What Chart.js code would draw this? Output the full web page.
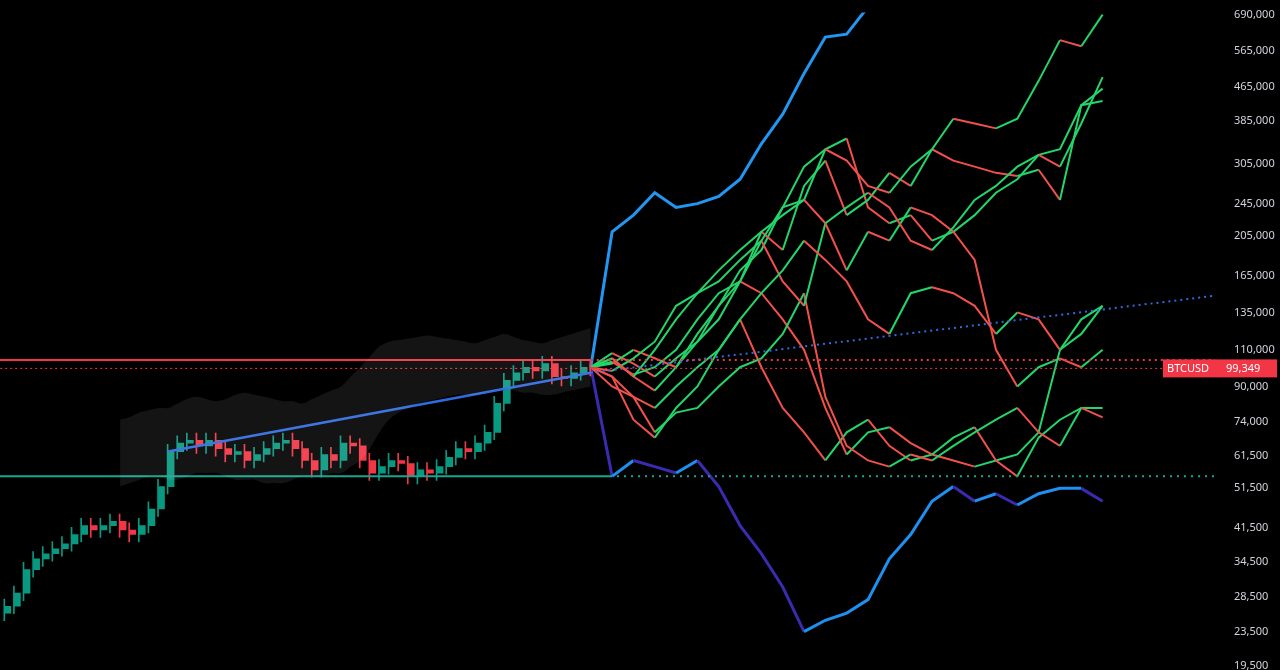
<!DOCTYPE html>
<html>
<head>
<meta charset="utf-8">
<script src="https://cdn.jsdelivr.net/npm/chart.js@4.4.1/dist/chart.umd.min.js"></script>
<style>
  html, body { margin: 0; background: #000; }
  #wrap { width: 1280px; height: 670px; }
</style>
</head>
<body>
<div id="wrap"><canvas id="c"></canvas></div>
<script>
// weekly candles, values in USD thousands
const closes = [27,29,33,35,36,37,38,40,42,41,42,43,41,40,42,46,52,63,66,67,65,67,64,62,63,60,62,64,66,67,64,60,57,62,60,66,65,60,56,58,60,59,55,57,56,58,61,64,63,66,70,82,93,97,100,98,102,95,94,97,100,99.3];
const opens = [26,27,29,33,35,36,37,38,40,42,41,42,43,41,40,42,46,52,63,66,67,65,67,64,62,63,60,62,64,66,67,64,60,57,62,60,66,65,60,56,58,60,59,55,57,56,58,61,64,63,66,70,82,93,97,100,98,102,95,94,97,100];
const bandUpper = [75,76,78,79,80,80,82,84,85,84,83,84,86,87,86,85,84,83,83,82,84,86,88,90,95,100,106,112,115,116,117,118,119,118,117,116,115,114,116,118,120,118,116,115,114,116,118,120,122,124];
const bandLower = [52,53,54,55,55,54,54,55,56,56,56,55,54,54,54,53,53,53,54,55,55,55,56,56,58,60,64,70,75,78,80,82,83,84,85,86,86,86,87,88,89,88,87,87,86,86,87,88,89,90];
const tickValues = [19500,23500,28500,34500,41500,51500,61500,74000,90000,110000,135000,165000,205000,245000,305000,385000,465000,565000,690000];

const blueUp = [100,210,230,260,240,245,255,280,340,400,500,610,620,720,850,1000];
const blueDown = [100,55,60,58,56,60,52,42,36,30,23.5,25,26,28,35,40,48,52,48,50,47,50,51.5,51.5,48];
const paths = [
  [100,105,95,110,130,150,160,180,200,240,300,330,310,270,260,300,330,390,380,370,390,480,600,580,690],
  [100,98,105,115,140,150,170,190,210,230,250,220,240,260,240,200,190,215,250,270,300,320,300,380,490],
  [100,103,96,100,110,130,150,160,210,190,270,310,230,250,290,270,330,310,300,290,285,295,250,420,430],
  [100,95,85,80,90,100,110,130,150,170,200,180,160,130,120,150,155,150,140,120,135,130,110,120,140],
  [100,102,110,105,100,115,130,160,200,160,140,220,170,210,200,240,230,210,180,110,90,100,105,100,110],
  [100,90,85,70,78,80,90,100,105,120,150,85,65,60,58,62,60,65,70,75,80,70,65,80,76],
  [100,105,95,88,100,120,140,160,150,130,110,80,62,70,72,66,62,68,72,60,55,68,75,80,80],
  [100,95,75,68,80,90,110,130,100,80,70,60,70,75,65,60,62,60,58,60,62,70,110,130,140],
  [100,108,102,95,105,115,140,170,190,240,250,330,350,240,220,230,200,210,230,260,280,320,330,420,460]
];
const pathStart = 61, pathStep = 2.22;

const GREEN = '#089981', RED = '#f23645';
const K = 1000;
const pathPts = arr => arr.map((v, k) => ({x: pathStart + k * pathStep, y: v * K}));

const datasets = [];
// shaded band
datasets.push({type:'line', data: bandUpper.map((v,i)=>({x:12+i,y:v*K})), borderWidth:0, pointRadius:0, fill:false, tension:0.4});
datasets.push({type:'line', data: bandLower.map((v,i)=>({x:12+i,y:v*K})), borderWidth:0, pointRadius:0, fill:'-1', backgroundColor:'rgba(255,255,255,0.08)', tension:0.4});
// horizontal levels
datasets.push({type:'line', data:[{x:-1,y:104*K},{x:61,y:104*K}], borderColor:RED, borderWidth:2, pointRadius:0});
datasets.push({type:'line', data:[{x:61,y:104*K},{x:126,y:104*K}], borderColor:RED, borderWidth:2, borderDash:[2,4], pointRadius:0});
datasets.push({type:'line', data:[{x:-1,y:99.349*K},{x:126,y:99.349*K}], borderColor:RED, borderWidth:1, borderDash:[2,3], pointRadius:0});
datasets.push({type:'line', data:[{x:-1,y:55*K},{x:63,y:55*K}], borderColor:'#17a68f', borderWidth:2, pointRadius:0});
datasets.push({type:'line', data:[{x:63,y:55*K},{x:126,y:55*K}], borderColor:'#17a68f', borderWidth:2, borderDash:[2,5], pointRadius:0});
// trend lines
datasets.push({type:'line', data:[{x:17,y:63*K},{x:61,y:97*K}], borderColor:'#2f6be0', borderWidth:2.5, pointRadius:0});
datasets.push({type:'line', data:[{x:61,y:97*K},{x:126,y:148*K}], borderColor:'#2f6be0', borderWidth:2, borderDash:[2,4], pointRadius:0});
// candles
const candleColor = closes.map((c,i)=> c >= opens[i] ? GREEN : RED);
datasets.push({type:'bar', data: closes.map((c,i)=>({x:i, y:[Math.min(c,opens[i])*0.96*K, Math.max(c,opens[i])*1.04*K]})), backgroundColor:candleColor, barThickness:1});
datasets.push({type:'bar', data: closes.map((c,i)=>({x:i, y:[opens[i]*K, (Math.abs(c-opens[i])<0.4 ? c+0.4 : c)*K]})), backgroundColor:candleColor, barThickness:6});
// projection paths
paths.forEach(p => datasets.push({type:'line', data: pathPts(p), borderWidth:2, pointRadius:0,
  segment:{borderColor: s => s.p1.parsed.y >= s.p0.parsed.y ? '#22d66a' : '#f2504b'}}));
datasets.push({type:'line', data: pathPts(blueUp), borderWidth:3, pointRadius:0, borderColor:'#2196f3'});
datasets.push({type:'line', data: pathPts(blueDown), borderWidth:3, pointRadius:0,
  segment:{borderColor: s => s.p1.parsed.y >= s.p0.parsed.y ? '#1e90f0' : '#3a2bb0'}});

const priceTag = {
  id:'priceTag',
  afterDraw(chart){
    const {ctx, scales:{y}} = chart;
    const py = y.getPixelForValue(99349);
    ctx.save();
    ctx.fillStyle = RED;
    ctx.fillRect(1163, py-9, 114, 18);
    ctx.fillStyle = '#fff';
    ctx.font = '11px "Noto Sans", sans-serif';
    ctx.textBaseline = 'middle';
    ctx.fillText('BTCUSD', 1167, py);
    ctx.fillText('99,349', 1226, py);
    ctx.restore();
  }
};

new Chart(document.getElementById('c'), {
  data:{datasets},
  options:{
    responsive:true, maintainAspectRatio:false, animation:false,
    layout:{padding:0},
    plugins:{legend:{display:false}, tooltip:{enabled:false}},
    scales:{
      x:{type:'linear', min:-0.5, max:126.5, display:false, offset:false},
      y:{type:'logarithmic', position:'right', min:20400, max:697600,
         afterBuildTicks: s => { s.ticks = tickValues.map(v=>({value:v})); },
         ticks:{color:'#d1d4dc', font:{size:11, family:'"Noto Sans", sans-serif'}, padding:6,
                callback: v => v.toLocaleString('en-US')},
         grid:{display:false}, border:{display:false}, afterFit: s => { s.width = 60; }}
    }
  },
  plugins:[priceTag]
});
</script>
</body>
</html>
